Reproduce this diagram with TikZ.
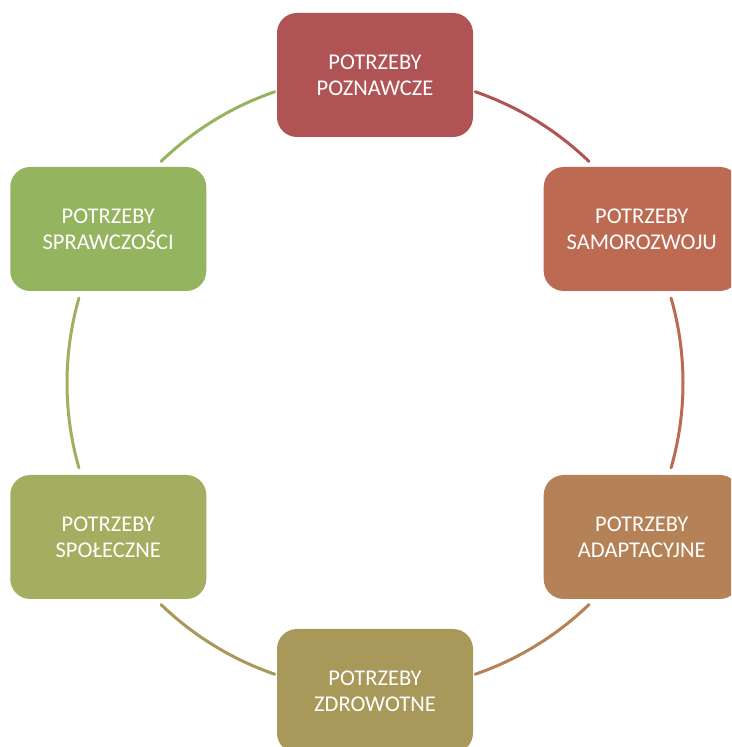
\documentclass[tikz,border=0pt]{standalone}
\usepackage{fontspec}
\setmainfont{Carlito}
\usetikzlibrary{positioning}
\definecolor{cpoz}{HTML}{B05355}
\definecolor{csam}{HTML}{BC6A52}
\definecolor{cada}{HTML}{B48256}
\definecolor{czdr}{HTML}{A8985A}
\definecolor{cspo}{HTML}{A5AE60}
\definecolor{cspr}{HTML}{94B460}
\begin{document}
\begin{tikzpicture}[x=1pt, y=1pt,
  need/.style={rounded corners=20pt, minimum height=124pt, minimum width=196pt, align=center, text=white, font=\fontsize{22.5}{26}\selectfont},
  ring/.style={line width=3pt, line cap=round},
]
  \clip (0,0) rectangle (731,747);
  \fill[white] (0,0) rectangle (731,747);
  \coordinate (o) at (375,364);
  % arcs of the ring, coloured after the box they leave
  \draw[ring, cpoz] ([shift={(71:308)}]o) arc[start angle=71, end angle=46, radius=308];
  \draw[ring, csam] ([shift={(16:308)}]o) arc[start angle=16, end angle=-16, radius=308];
  \draw[ring, cada] ([shift={(-46:308)}]o) arc[start angle=-46, end angle=-71, radius=308];
  \draw[ring, czdr] ([shift={(-109:308)}]o) arc[start angle=-109, end angle=-134, radius=308];
  \draw[ring, cspo] ([shift={(-164:308)}]o) arc[start angle=-164, end angle=-196, radius=308];
  \draw[ring, cspr] ([shift={(134:308)}]o) arc[start angle=134, end angle=109, radius=308];
  % boxes
  \node[need, fill=cpoz] (poz) at ([shift={(90:308)}]o) {POTRZEBY\\POZNAWCZE};
  \node[need, fill=csam] (sam) at ([shift={(30:308)}]o) {POTRZEBY\\SAMOROZWOJU};
  \node[need, fill=cada] (ada) at ([shift={(-30:308)}]o) {POTRZEBY\\ADAPTACYJNE};
  \node[need, fill=czdr] (zdr) at ([shift={(-90:308)}]o) {POTRZEBY\\ZDROWOTNE};
  \node[need, fill=cspo] (spo) at ([shift={(-150:308)}]o) {POTRZEBY\\SPOŁECZNE};
  \node[need, fill=cspr] (spr) at ([shift={(150:308)}]o) {POTRZEBY\\SPRAWCZOŚCI};
\end{tikzpicture}
\end{document}
